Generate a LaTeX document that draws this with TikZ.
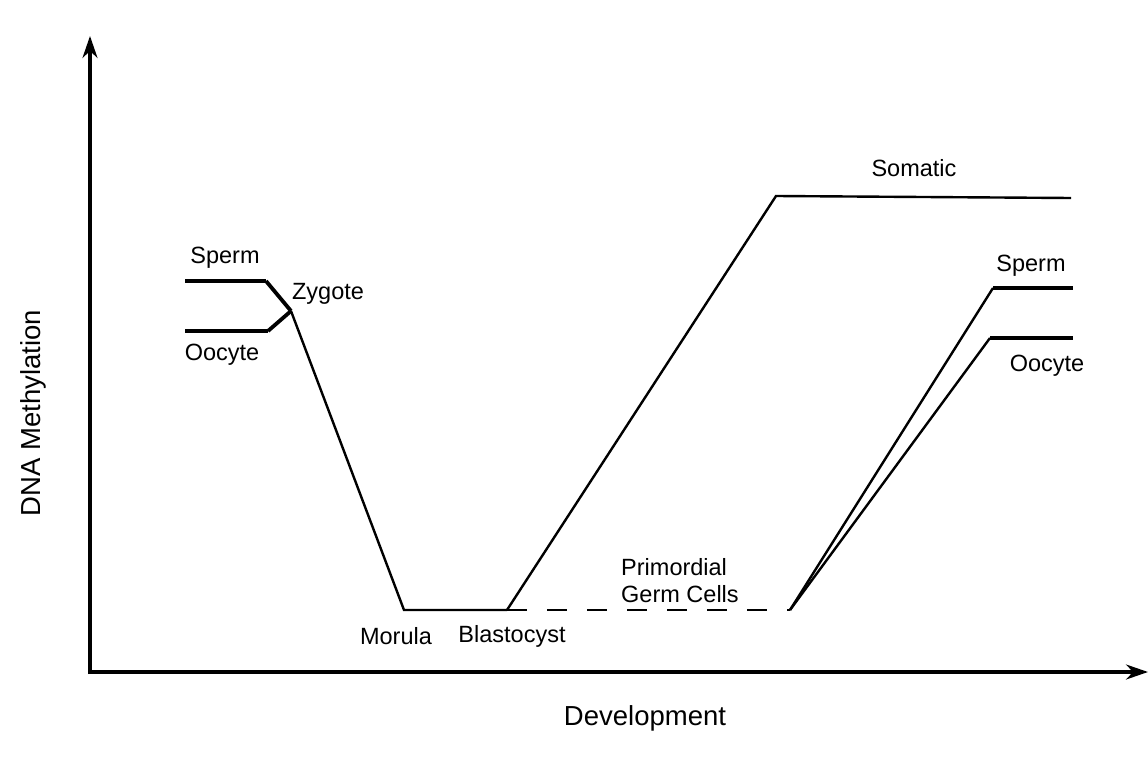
\documentclass[tikz,border=0pt]{standalone}
\usepackage{fontspec}
\setmainfont{Liberation Sans}
\usetikzlibrary{arrows.meta}
\begin{document}
\begin{tikzpicture}[x=1pt,y=-1pt,
  axis/.style={line width=3.4pt,-{Stealth[length=22pt,width=15pt]}},
  curve/.style={line width=2.4pt,line join=miter},
  thickseg/.style={line width=4.6pt},
  lbl/.style={font=\fontsize{23.5}{27}\selectfont,inner sep=0pt},
  ttl/.style={font=\fontsize{27.5}{30}\selectfont,inner sep=0pt}]
\useasboundingbox (0,0) rectangle (1148,757);
\fill[white] (0,0) rectangle (1148,757);
% axes
\coordinate (origin) at (90,672);
\coordinate (ytop) at (90,36);
\coordinate (xend) at (1148,672);
\draw[axis] (90,674) -- (ytop);
\draw[axis] (88,672) -- (xend);
% path points
\coordinate (spL) at (185,281);
\coordinate (spLb) at (266,281);
\coordinate (ooL) at (185,331);
\coordinate (ooLb) at (268,331);
\coordinate (zyg) at (291,311);
\coordinate (mor) at (404,610);
\coordinate (bla) at (507,610);
\coordinate (pgc) at (790,610);
\coordinate (som) at (776,196);
\coordinate (somE) at (1071,198);
\coordinate (spR) at (993,288);
\coordinate (spRE) at (1073,288);
\coordinate (ooR) at (990,338);
\coordinate (ooRE) at (1073,338);
% left gametes
\draw[thickseg] (spL) -- (spLb);
\draw[thickseg] (ooL) -- (ooLb);
\draw[line width=3.8pt] (spLb) -- (zyg);
\draw[line width=3.8pt] (ooLb) -- (zyg);
% main curve
\draw[curve] (zyg) -- (mor) -- (bla);
\draw[curve] (bla) -- (som) -- (somE);
\draw[curve,dash pattern=on 20pt off 20pt] (bla) -- (pgc);
\draw[curve] (pgc) -- (spR);
\draw[curve] (pgc) -- (ooR);
\draw[thickseg] (spR) -- (spRE);
\draw[thickseg] (ooR) -- (ooRE);
% labels
\node[lbl] (tSpL) at (225,258) {Sperm};
\node[lbl] (tOoL) at (222,355) {Oocyte};
\node[lbl] (tZyg) at (328,294) {Zygote};
\node[lbl] (tMor) at (396,636) {Morula};
\node[lbl] (tBla) at (512,636) {Blastocyst};
\node[lbl,align=left,anchor=west] (tPgc) at (621,581) {Primordial\\Germ Cells};
\node[lbl] (tSom) at (914,168) {Somatic};
\node[lbl] (tSpR) at (1031,266) {Sperm};
\node[lbl] (tOoR) at (1047,366) {Oocyte};
\node[ttl,rotate=90] (tY) at (33,413) {DNA Methylation};
\node[ttl] (tX) at (645,718) {Development};
\end{tikzpicture}
\end{document}
